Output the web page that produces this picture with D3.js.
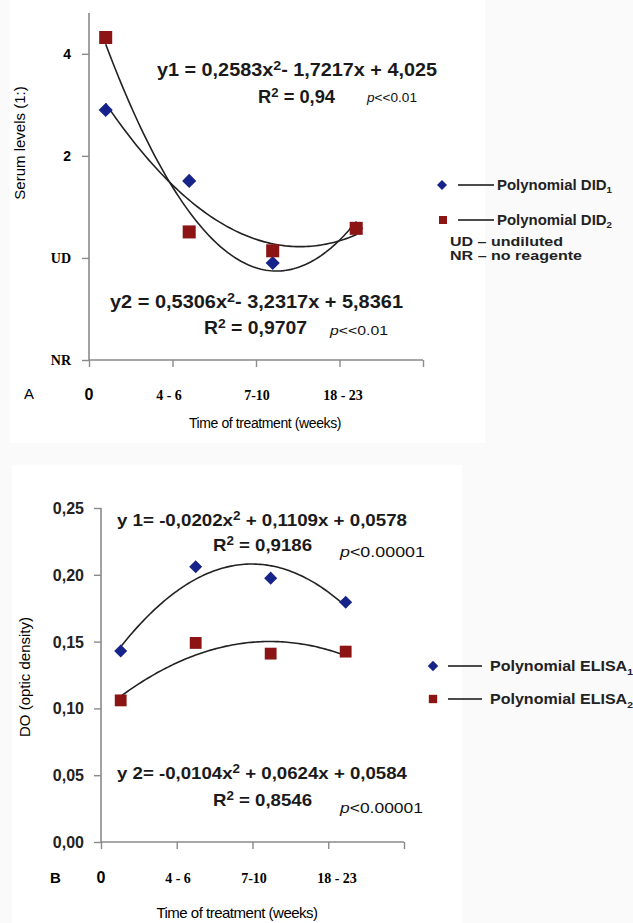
<!DOCTYPE html>
<html>
<head>
<meta charset="utf-8">
<title>serum_elisa_polynomial</title>
<script src="https://d3js.org/d3.v7.min.js"></script>
<style>
  body { margin: 0; background: #fafafa; }
  svg { display: block; }
</style>
</head>
<body>
<svg width="633" height="923"></svg>
<script>
// categories (time of treatment)
var categories = ["0", "4 - 6", "7-10", "18 - 23"];

// Panel A: serum levels, log2 titre units (NR=-1, UD=0, 2=1, 4=2)
var xA = [0.2, 1.2, 2.2, 3.2];
var did1 = [1.45, 0.755, -0.05, 0.29];
var did2 = [2.16, 0.255, 0.07, 0.29];
var yTicksA = [-1, 0, 1, 2];
var yTickLabelsA = ["NR", "UD", "2", "4"];

// Panel B: ELISA optic density
var xB = [0.26, 1.25, 2.24, 3.23];
var elisa1 = [0.143, 0.206, 0.1975, 0.1795];
var elisa2 = [0.106, 0.149, 0.141, 0.1425];
var yTicksB = [0, 0.05, 0.10, 0.15, 0.20, 0.25];

var blue = "#16248a", red = "#8c1414";
var sans = "Liberation Sans, Arial, sans-serif", serif = "Liberation Serif, serif";

var svg = d3.select("svg");

// light panels
svg.append("rect").attr("x", 10).attr("y", 0).attr("width", 475).attr("height", 443).attr("fill", "#fff");
svg.append("rect").attr("x", 12).attr("y", 465).attr("width", 450).attr("height", 458).attr("fill", "#fff");

// least-squares quadratic fit
function quadFit(xs, ys) {
  var n = xs.length, s = [0, 0, 0, 0, 0], t = [0, 0, 0];
  for (var i = 0; i < n; i++) {
    var x = xs[i], p = 1;
    for (var k = 0; k < 5; k++) { s[k] += p; if (k < 3) t[k] += p * ys[i]; p *= x; }
  }
  var A = [[s[0], s[1], s[2], t[0]], [s[1], s[2], s[3], t[1]], [s[2], s[3], s[4], t[2]]];
  for (var c = 0; c < 3; c++) {
    for (var r = c + 1; r < 3; r++) {
      var f = A[r][c] / A[c][c];
      for (var j = c; j < 4; j++) A[r][j] -= f * A[c][j];
    }
  }
  var b = [0, 0, 0];
  for (var r2 = 2; r2 >= 0; r2--) {
    var v = A[r2][3];
    for (var j2 = r2 + 1; j2 < 3; j2++) v -= A[r2][j2] * b[j2];
    b[r2] = v / A[r2][r2];
  }
  return function(x) { return b[0] + b[1] * x + b[2] * x * x; };
}

// marker: square, or square turned 45deg for the diamond
function marker(sel, kind, size) {
  sel.attr("d", d3.symbol().type(d3.symbolSquare).size(size));
  return kind === "diamond" ? " rotate(45)" : "";
}

function drawPanel(o) {
  var g = svg.append("g");
  var x = d3.scaleLinear().domain([0, 4]).range([o.left, o.right]);
  var y = d3.scaleLinear().domain(o.yDomain).range([o.bottom, o.top]);

  var yAxis = g.append("g").attr("transform", "translate(" + o.left + ",0)")
    .call(d3.axisLeft(y).tickValues(o.yTicks).tickSize(7).tickFormat(""));
  var xAxis = g.append("g").attr("transform", "translate(0," + o.bottom + ")")
    .call(d3.axisBottom(x).tickValues([0, 1, 2, 3, 4]).tickSize(7).tickFormat(""));
  g.selectAll(".domain").attr("stroke", "#8a8a8a").attr("stroke-width", 1.6);
  g.selectAll(".tick line").attr("stroke", "#8a8a8a").attr("stroke-width", 1.4);
  yAxis.select(".domain").attr("d", "M0," + y(o.yDomain[1]) + "V" + o.bottom);
  xAxis.select(".domain").attr("d", "M" + o.left + ",0H" + o.right);

  // trend lines
  o.series.forEach(function(s) {
    var fit = quadFit(s.x, s.y);
    var pts = d3.range(0, 101).map(function(i) {
      var xv = s.x[0] + (s.x[s.x.length - 1] - s.x[0]) * i / 100;
      return [x(xv), y(fit(xv))];
    });
    g.append("path").attr("d", d3.line()(pts))
      .attr("fill", "none").attr("stroke", "#222").attr("stroke-width", 1.6);
  });

  // markers
  o.series.forEach(function(s) {
    g.selectAll(null).data(s.y).enter().append("path")
      .each(function(d, i) {
        var sel = d3.select(this);
        var rot = marker(sel, s.shape, s.size);
        sel.attr("transform", "translate(" + x(s.x[i]) + "," + y(d) + ")" + rot);
      })
      .attr("fill", s.color);
  });

  return { x: x, y: y, g: g };
}

// ---------- Panel A ----------
var pA = drawPanel({
  left: 89, right: 423, top: 13, bottom: 360,
  yDomain: [-1, 2.4], yTicks: yTicksA,
  series: [
    { x: xA, y: did1, color: blue, shape: "diamond", size: 100 },
    { x: xA, y: did2, color: red, shape: "square", size: 170 }
  ]
});

pA.g.selectAll(".ylab").data(yTicksA).enter().append("text")
  .attr("x", 71).attr("y", function(d) { return pA.y(d) + 5; })
  .attr("text-anchor", "end")
  .attr("font-family", function(d, i) { return i < 2 ? serif : sans; })
  .attr("font-weight", "bold").attr("font-size", 14)
  .text(function(d, i) { return yTickLabelsA[i]; });

pA.g.selectAll(".xlab").data(categories).enter().append("text")
  .attr("x", function(d, i) { return [89, 169, 257, 343][i]; }).attr("y", 400)
  .attr("text-anchor", "middle")
  .attr("font-family", function(d, i) { return i === 0 ? sans : serif; })
  .attr("font-weight", "bold").attr("font-size", function(d, i) { return i === 0 ? 16 : 14; })
  .text(function(d) { return d; });

svg.append("text").attr("x", 24).attr("y", 399).attr("font-family", sans)
  .attr("font-size", 15).text("A");
svg.append("text").attr("x", 265).attr("y", 428).attr("text-anchor", "middle")
  .attr("font-family", sans).attr("font-size", 14).attr("letter-spacing", -0.4)
  .text("Time of treatment (weeks)");
svg.append("text").attr("transform", "translate(25,143) rotate(-90)").attr("text-anchor", "middle")
  .attr("font-family", sans).attr("font-size", 15)
  .text("Serum levels (1:)");

function eq(x, y, parts, size, width) {
  var t = svg.append("text").attr("x", x).attr("y", y)
    .attr("font-family", sans).attr("font-size", size).attr("font-weight", "bold").attr("fill", "#1a1a1a");
  parts.forEach(function(p) {
    var s = t.append("tspan").text(p.t);
    if (p.sup) s.attr("font-size", size * 0.72).attr("dy", -size * 0.36);
    if (p.after) s.attr("dy", size * 0.36);
  });
  if (width) t.attr("textLength", width).attr("lengthAdjust", "spacingAndGlyphs");
  return t;
}
function pval(x, y, txt, size, width) {
  var t = svg.append("text").attr("x", x).attr("y", y)
    .attr("font-family", sans).attr("font-size", size).attr("fill", "#111");
  t.append("tspan").attr("font-style", "italic").text("p");
  t.append("tspan").text(txt);
  if (width) t.attr("textLength", width).attr("lengthAdjust", "spacingAndGlyphs");
}

eq(157, 76, [{ t: "y1 = 0,2583x" }, { t: "2", sup: 1 }, { t: "- 1,7217x + 4,025", after: 1 }], 18, 280);
eq(258, 103, [{ t: "R" }, { t: "2", sup: 1 }, { t: " = 0,94", after: 1 }], 18, 77);
pval(367, 102, "<<0.01", 12, 50);
eq(110, 308, [{ t: "y2 = 0,5306x" }, { t: "2", sup: 1 }, { t: "- 3,2317x + 5,8361", after: 1 }], 18, 293);
eq(204, 334, [{ t: "R" }, { t: "2", sup: 1 }, { t: " = 0,9707", after: 1 }], 18, 103);
pval(330, 335, "<<0.01", 12, 58);

// legend
function legendItem(x, y, shape, size, color, label, sub, fs, lineX0, lineX1, textX, textW) {
  var m = svg.append("path").attr("fill", color);
  var rot = marker(m, shape, size);
  m.attr("transform", "translate(" + x + "," + y + ")" + rot);
  svg.append("line").attr("x1", lineX0).attr("x2", lineX1).attr("y1", y).attr("y2", y)
    .attr("stroke", "#111").attr("stroke-width", 1.6);
  var t = svg.append("text").attr("x", textX).attr("y", y + fs * 0.35)
    .attr("font-family", sans).attr("font-size", fs)
    .attr("font-weight", "bold").attr("fill", "#222").text(label);
  t.append("tspan").attr("font-size", fs * 0.65).attr("dy", fs * 0.25).text(sub);
  t.attr("textLength", textW).attr("lengthAdjust", "spacingAndGlyphs");
}
legendItem(442, 185, "diamond", 50, blue, "Polynomial DID", "1", 14, 458, 494, 497, 115);
legendItem(443, 220, "square", 64, red, "Polynomial DID", "2", 14, 458, 494, 497, 115);
svg.append("text").attr("x", 450).attr("y", 246).attr("font-family", sans)
  .attr("font-size", 13).attr("font-weight", "bold").attr("fill", "#222")
  .attr("textLength", 113).attr("lengthAdjust", "spacingAndGlyphs").text("UD \u2013 undiluted");
svg.append("text").attr("x", 450).attr("y", 260).attr("font-family", sans)
  .attr("font-size", 13).attr("font-weight", "bold").attr("fill", "#222")
  .attr("textLength", 132).attr("lengthAdjust", "spacingAndGlyphs").text("NR \u2013 no reagente");

// ---------- Panel B ----------
var pB = drawPanel({
  left: 101, right: 404, top: 508, bottom: 842,
  yDomain: [0, 0.25], yTicks: yTicksB,
  series: [
    { x: xB, y: elisa1, color: blue, shape: "diamond", size: 85 },
    { x: xB, y: elisa2, color: red, shape: "square", size: 140 }
  ]
});

pB.g.selectAll(".ylab").data(yTicksB).enter().append("text")
  .attr("x", 84).attr("y", function(d) { return pB.y(d) + 6; })
  .attr("text-anchor", "end").attr("font-family", sans)
  .attr("font-weight", "bold").attr("font-size", 16).attr("fill", "#222")
  .text(function(d) { return d3.format(".2f")(d).replace(".", ","); });

pB.g.selectAll(".xlab").data(categories).enter().append("text")
  .attr("x", function(d, i) { return [101, 178, 254, 337][i]; }).attr("y", 883)
  .attr("text-anchor", "middle")
  .attr("font-family", function(d, i) { return i === 0 ? sans : serif; })
  .attr("font-weight", "bold").attr("font-size", function(d, i) { return i === 0 ? 16 : 14; })
  .text(function(d) { return d; });

svg.append("text").attr("x", 50).attr("y", 883).attr("font-family", sans)
  .attr("font-weight", "bold").attr("font-size", 15).text("B");
svg.append("text").attr("x", 237).attr("y", 918).attr("text-anchor", "middle")
  .attr("font-family", sans).attr("font-size", 15).attr("letter-spacing", -0.5)
  .text("Time of treatment (weeks)");
svg.append("text").attr("transform", "translate(30,677) rotate(-90)").attr("text-anchor", "middle")
  .attr("font-family", sans).attr("font-size", 15)
  .text("DO (optic density)");

eq(117, 526, [{ t: "y 1= -0,0202x" }, { t: "2", sup: 1 }, { t: " + 0,1109x + 0,0578", after: 1 }], 17, 290);
eq(213, 551, [{ t: "R" }, { t: "2", sup: 1 }, { t: " = 0,9186", after: 1 }], 17, 99);
pval(340, 557, "<0.00001", 14, 85);
eq(117, 779, [{ t: "y 2= -0,0104x" }, { t: "2", sup: 1 }, { t: " + 0,0624x + 0,0584", after: 1 }], 17, 290);
eq(213, 806, [{ t: "R" }, { t: "2", sup: 1 }, { t: " = 0,8546", after: 1 }], 17, 99);
pval(340, 813, "<0.00001", 14, 83);

legendItem(433, 666, "diamond", 55, blue, "Polynomial ELISA", "1", 15, 448, 482, 490, 143);
legendItem(433, 699, "square", 70, red, "Polynomial ELISA", "2", 15, 448, 482, 490, 143);
</script>
</body>
</html>
